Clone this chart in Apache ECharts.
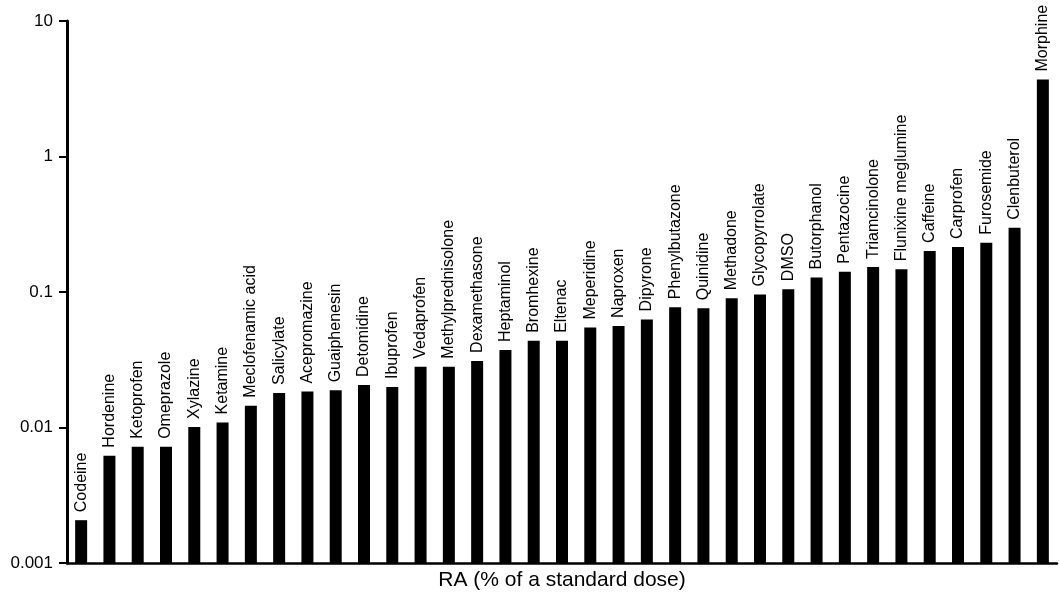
<!DOCTYPE html>
<html>
<head>
<meta charset="utf-8">
<script src="https://cdn.jsdelivr.net/npm/echarts@6/dist/echarts.min.js"></script>
<style>
  html, body { margin: 0; padding: 0; background: #fff; }
  #chart { width: 1060px; height: 602px; }
</style>
</head>
<body>
<div id="chart"></div>
<script>
var drugs = ['Codeine', 'Hordenine', 'Ketoprofen', 'Omeprazole', 'Xylazine', 'Ketamine',
  'Meclofenamic acid', 'Salicylate', 'Acepromazine', 'Guaiphenesin', 'Detomidine', 'Ibuprofen',
  'Vedaprofen', 'Methylprednisolone', 'Dexamethasone', 'Heptaminol', 'Bromhexine', 'Eltenac',
  'Meperidine', 'Naproxen', 'Dipyrone', 'Phenylbutazone', 'Quinidine', 'Methadone',
  'Glycopyrrolate', 'DMSO', 'Butorphanol', 'Pentazocine', 'Triamcinolone', 'Flunixine meglumine',
  'Caffeine', 'Carprofen', 'Furosemide', 'Clenbuterol', 'Morphine'];

// RA (% of a standard dose)
var raValues = [0.00207, 0.0062, 0.0072, 0.0072, 0.0101, 0.0109,
  0.0145, 0.0180, 0.0184, 0.0188, 0.0206, 0.0199,
  0.0281, 0.0281, 0.0310, 0.0373, 0.0436, 0.0436,
  0.0547, 0.0562, 0.0628, 0.0773, 0.0758, 0.0898,
  0.0959, 0.105, 0.128, 0.141, 0.153, 0.147,
  0.201, 0.215, 0.231, 0.298, 3.7];

var yTickLabels = ['0.001', '0.01', '0.1', '1', '10'];
var yMin = 0.001, yMax = 10;

var FONT = 'Liberation Sans, Arial, Helvetica, sans-serif';

var chart = echarts.init(document.getElementById('chart'));

// bars drawn from the axis floor (0.001) instead of echarts' log default of 1
function renderBar(params, api){
  var i = api.value(0);
  var v = api.value(1);
  var top = api.coord([i, v]);
  var base = api.coord([i, yMin]);
  var w = 12;
  return {
    type: 'group',
    children: [{
      type: 'rect',
      shape: { x: top[0] - w / 2, y: top[1], width: w, height: base[1] - top[1] },
      style: { fill: '#000' }
    }, {
      type: 'text',
      x: top[0],
      y: top[1] - 8,
      rotation: Math.PI / 2,
      style: {
        text: drugs[i],
        fill: '#000',
        font: '16px ' + FONT,
        align: 'left',
        verticalAlign: 'middle'
      }
    }]
  };
}

var option = {
  animation: false,
  backgroundColor: '#fff',
  textStyle: { fontFamily: FONT, color: '#000' },
  grid: { left: 67, right: 3, top: 21, bottom: 39, containLabel: false },
  xAxis: {
    type: 'category',
    data: drugs,
    name: 'RA (% of a standard dose)',
    nameLocation: 'middle',
    nameGap: 7,
    nameTextStyle: { fontSize: 21, color: '#000', fontFamily: FONT },
    axisLine: { lineStyle: { color: '#000', width: 2.5 } },
    axisTick: { show: false },
    axisLabel: { show: false },
    splitLine: { show: false }
  },
  yAxis: {
    type: 'log',
    logBase: 10,
    min: yMin,
    max: yMax,
    axisLine: { show: true, lineStyle: { color: '#000', width: 3 } },
    axisTick: { show: true, length: 8, lineStyle: { color: '#000', width: 2 } },
    axisLabel: {
      fontSize: 17,
      color: '#000',
      margin: 14,
      formatter: function(v){
        var s = String(parseFloat(Number(v).toPrecision(6)));
        return yTickLabels.indexOf(s) >= 0 ? s : '';
      }
    },
    splitLine: { show: false },
    minorTick: { show: false }
  },
  series: [{
    type: 'custom',
    renderItem: renderBar,
    clip: false,
    encode: { x: 0, y: 1 },
    data: drugs.map(function(d, i){ return [i, raValues[i]]; })
  }]
};

chart.setOption(option);
</script>
</body>
</html>
